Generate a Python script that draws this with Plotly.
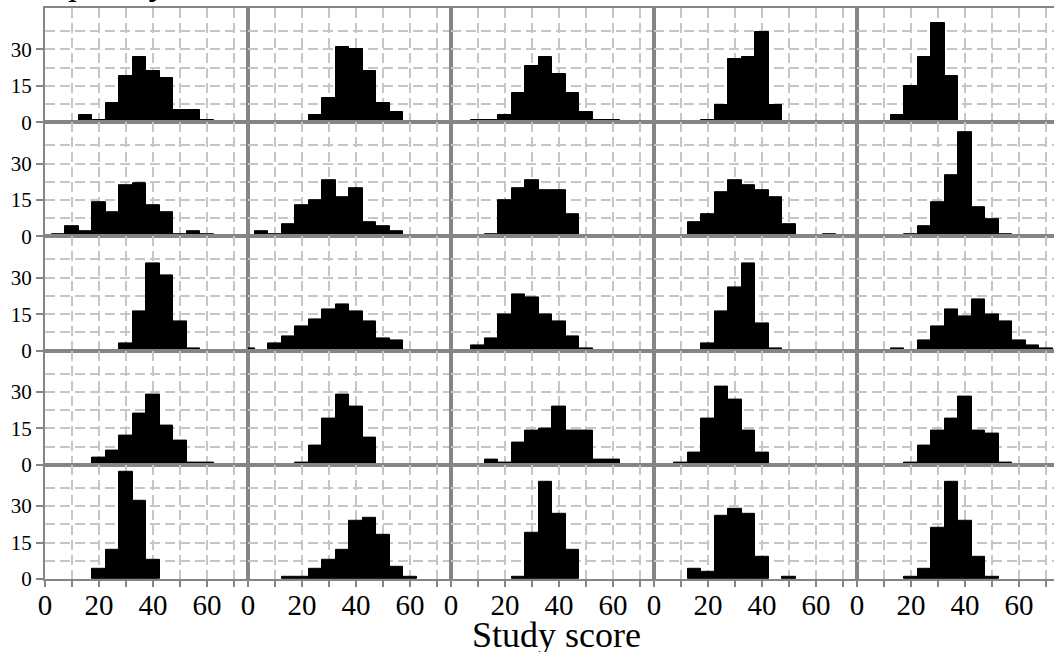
import plotly.graph_objects as go
from plotly.subplots import make_subplots

# Common histogram bins (width 5), given by their centres
bin_centers = [0, 5, 10, 15, 20, 25, 30, 35, 40, 45, 50, 55, 60, 65, 70, 75]
bin_width = 5

# Counts per panel, one list per row (columns left to right)
row1 = [
    [0, 0, 0, 3, 1, 8, 19, 27, 21, 18, 5, 5, 1, 0, 0, 0],
    [0, 0, 0, 0, 0, 3, 10, 31, 30, 21, 8, 4, 0, 0, 0, 0],
    [0, 0, 1, 1, 3, 12, 23, 27, 20, 12, 4, 1, 1, 0, 0, 0],
    [0, 0, 0, 0, 1, 7, 26, 27, 37, 7, 0, 0, 0, 0, 0, 0],
    [0, 0, 0, 3, 15, 27, 41, 19, 0, 0, 0, 0, 0, 0, 0, 0],
]
row2 = [
    [0, 1, 4, 2, 14, 10, 21, 22, 13, 10, 1, 2, 1, 0, 0, 0],
    [0, 2, 1, 5, 13, 15, 23, 16, 20, 6, 4, 2, 0, 0, 0, 0],
    [0, 0, 0, 1, 15, 20, 23, 19, 19, 9, 0, 0, 0, 0, 0, 0],
    [0, 0, 0, 6, 9, 18, 23, 21, 19, 16, 5, 0, 0, 1, 0, 0],
    [0, 0, 0, 0, 1, 4, 14, 25, 43, 12, 7, 1, 0, 0, 0, 0],
]
row3 = [
    [0, 0, 0, 0, 0, 0, 3, 16, 36, 31, 12, 1, 0, 0, 0, 0],
    [1, 0, 3, 6, 10, 13, 17, 19, 16, 12, 5, 4, 0, 0, 0, 0],
    [0, 0, 2, 5, 15, 23, 22, 15, 12, 6, 1, 0, 0, 0, 0, 0],
    [0, 0, 0, 0, 3, 16, 26, 36, 11, 1, 0, 0, 0, 0, 0, 0],
    [0, 0, 0, 1, 0, 4, 10, 17, 14, 21, 15, 12, 4, 2, 1, 0],
]
row4 = [
    [0, 0, 0, 0, 3, 6, 12, 21, 29, 16, 10, 1, 1, 0, 0, 0],
    [0, 0, 0, 0, 1, 8, 19, 29, 24, 11, 0, 0, 0, 0, 0, 0],
    [0, 0, 0, 2, 1, 9, 14, 15, 24, 14, 14, 2, 2, 0, 0, 0],
    [0, 0, 1, 5, 19, 32, 27, 14, 5, 0, 0, 0, 0, 0, 0, 0],
    [0, 0, 0, 0, 1, 8, 14, 19, 28, 14, 13, 1, 0, 0, 0, 0],
]
row5 = [
    [0, 0, 0, 0, 4, 12, 44, 32, 8, 0, 0, 0, 0, 0, 0, 0],
    [0, 0, 0, 1, 1, 4, 8, 12, 24, 25, 18, 5, 1, 0, 0, 0],
    [0, 0, 0, 0, 0, 1, 19, 40, 27, 12, 0, 0, 0, 0, 0, 0],
    [0, 0, 0, 4, 3, 26, 29, 27, 9, 0, 1, 0, 0, 0, 0, 0],
    [0, 0, 0, 0, 1, 4, 21, 40, 24, 9, 1, 0, 0, 0, 0, 0],
]
rows = [row1, row2, row3, row4, row5]

x_ticks = [0, 10, 20, 30, 40, 50, 60, 70]
x_labels = ["0", "", "20", "", "40", "", "60", ""]
y_ticks = [0, 15, 30]
y_grid_minor = [7.5, 22.5, 37.5]
x_title = "Study score"
y_title = "Frequency"

FONT = "Liberation Serif"
BORDER = "#858585"
GRID = "#c6c6c6"

W, H = 1054, 652
ML, MT, MB = 45, 8, 73
px_per_unit = 2.7
col_px = [203, 203, 203, 203, 197]

fig = make_subplots(
    rows=5, cols=5,
    column_widths=col_px,
    horizontal_spacing=0, vertical_spacing=0,
)

for r, row in enumerate(rows, start=1):
    for c, counts in enumerate(row, start=1):
        xs = [b for b, n in zip(bin_centers, counts) if n > 0]
        ys = [n for n in counts if n > 0]
        fig.add_trace(
            go.Bar(
                x=xs, y=ys, width=bin_width,
                marker=dict(color="black", line=dict(color="black", width=1)),
                showlegend=False, hoverinfo="x+y",
            ),
            row=r, col=c,
        )
        bottom = r == 5
        left = c == 1
        fig.update_xaxes(
            range=[0, col_px[c - 1] / px_per_unit],
            tickmode="array", tickvals=x_ticks,
            ticktext=x_labels if bottom else [""] * len(x_ticks),
            showticklabels=bottom,
            ticks="outside" if bottom else "",
            ticklen=6, tickwidth=1.5, tickcolor=BORDER,
            ticklabelstandoff=-7,
            tickfont=dict(family=FONT, size=29, color="black"),
            showgrid=True, gridcolor=GRID, gridwidth=1.5, griddash="10px,5px",
            showline=True, linecolor=BORDER, linewidth=2, mirror=True,
            zeroline=False, fixedrange=True,
            row=r, col=c,
        )
        fig.update_yaxes(
            range=[0, 47],
            tickmode="array", tickvals=y_ticks,
            showticklabels=left,
            ticks="outside" if left else "",
            ticklen=7, tickwidth=1.5, tickcolor=BORDER,
            tickfont=dict(family=FONT, size=21, color="black"),
            showgrid=True, gridcolor=GRID, gridwidth=1.5, griddash="10px,5px",
            minor=dict(tickvals=y_grid_minor, showgrid=True, gridcolor=GRID,
                       gridwidth=1.5, griddash="10px,5px", ticks=""),
            showline=True, linecolor=BORDER, linewidth=2,
            mirror=(c != 5),
            zeroline=False, fixedrange=True,
            row=r, col=c,
        )

fig.update_layout(
    width=W, height=H,
    margin=dict(l=ML, r=0, t=MT, b=MB, pad=0),
    paper_bgcolor="white", plot_bgcolor="white",
    bargap=0,
    font=dict(family=FONT, color="black"),
    annotations=[
        dict(text=x_title, xref="paper", yref="paper",
             x=(556 - ML) / (W - ML), y=0, xanchor="center", yanchor="top",
             yshift=-34, showarrow=False,
             font=dict(family=FONT, size=36, color="black")),
        dict(text=y_title, xref="paper", yref="paper",
             x=(5 - ML) / (W - ML), y=1, xanchor="left", yanchor="bottom",
             yshift=4, showarrow=False,
             font=dict(family=FONT, size=38, color="black")),
    ],
)

fig.write_html("out.html")
